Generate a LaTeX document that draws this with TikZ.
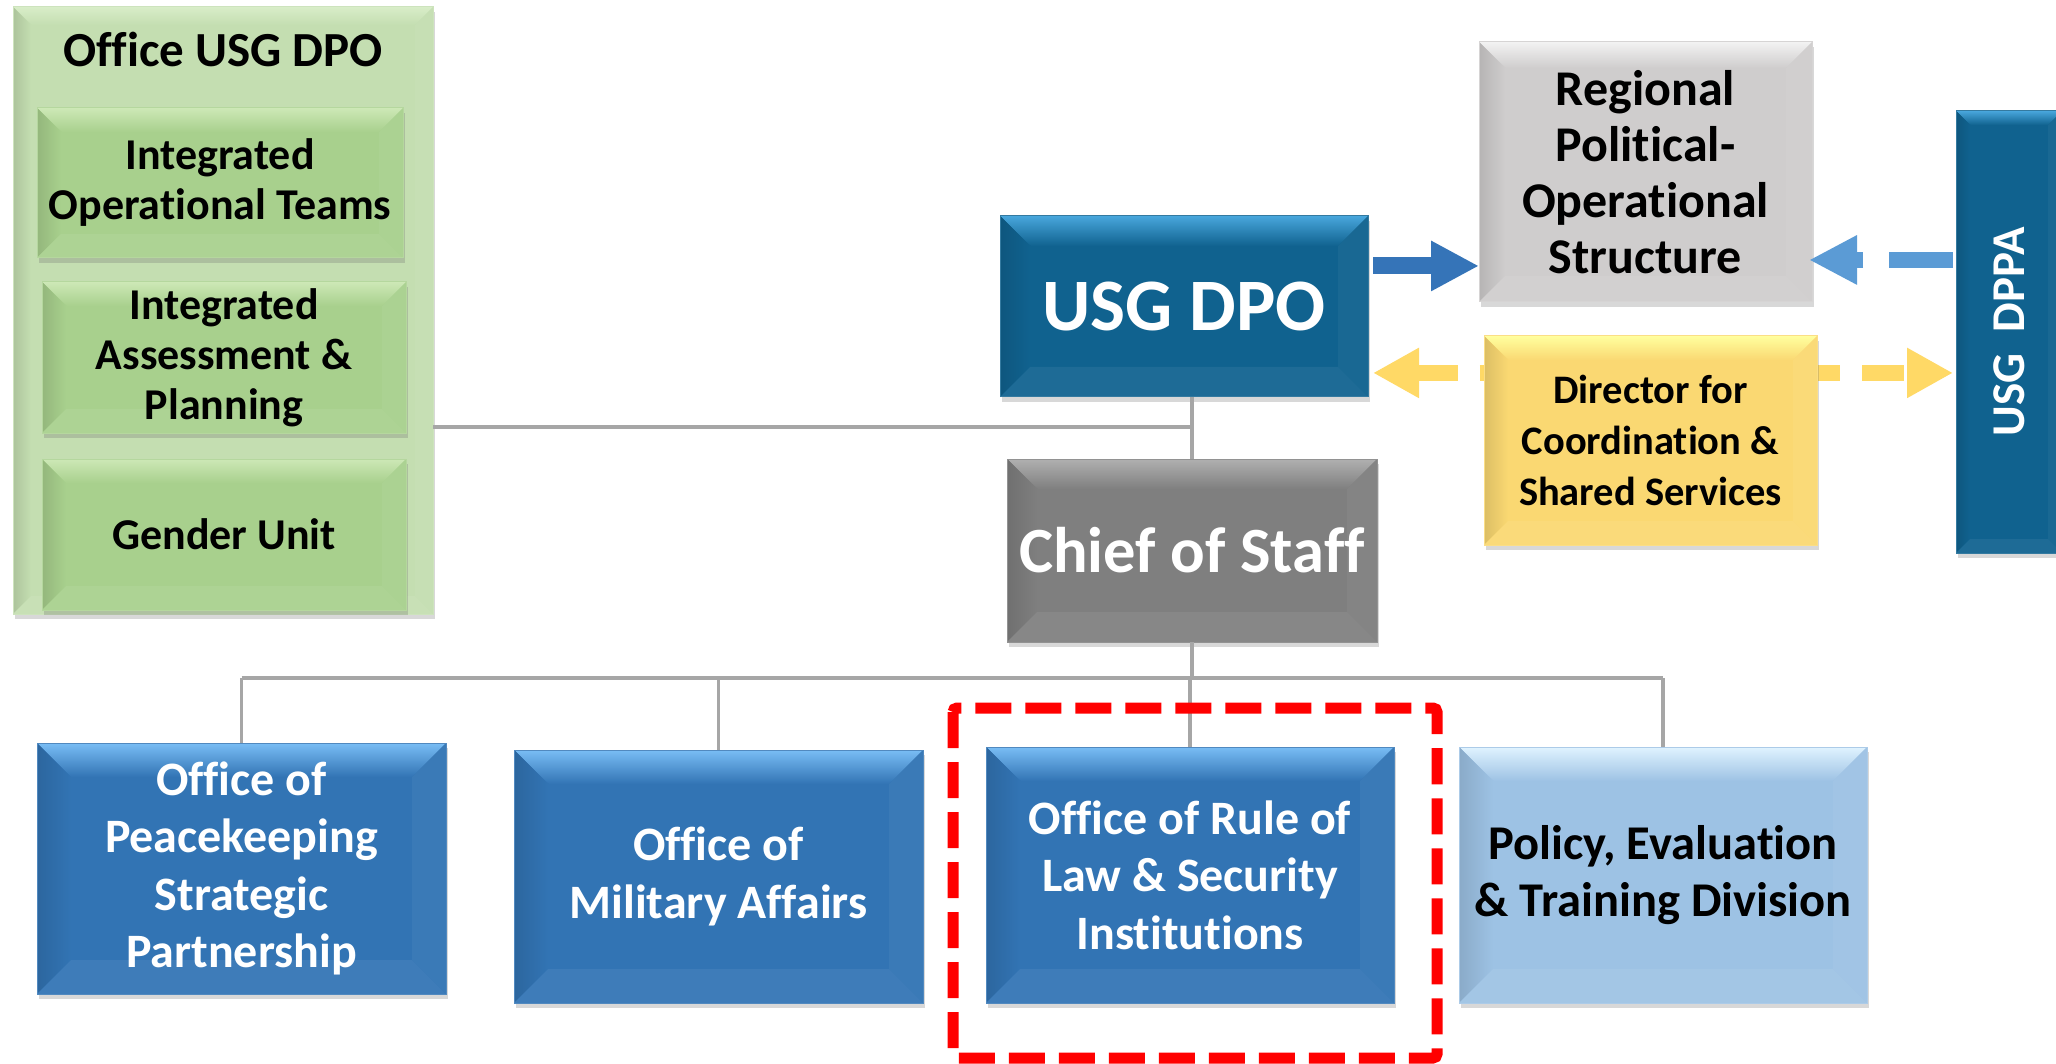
\documentclass[tikz,border=0pt]{standalone}
\usepackage{fontspec}
\setmainfont{Carlito}[Ligatures=NoCommon]
\usetikzlibrary{calc,arrows.meta,shadows}

\definecolor{dpoblue}{HTML}{10628F}
\definecolor{dpotop}{HTML}{48A6DC}
\definecolor{grayA}{HTML}{CFCDCD}
\definecolor{grayAtop}{HTML}{F2F2F2}
\definecolor{yel}{HTML}{FAD872}
\definecolor{yeltop}{HTML}{FFFF9E}
\definecolor{chiefg}{HTML}{7F7F7F}
\definecolor{chieftop}{HTML}{B0B0B0}
\definecolor{midblue}{HTML}{3274B4}
\definecolor{midtop}{HTML}{79BDF5}
\definecolor{pale}{HTML}{9DC2E4}
\definecolor{paletop}{HTML}{E0F3FF}
\definecolor{gout}{HTML}{C4DEB1}
\definecolor{gouttop}{HTML}{D8EDC8}
\definecolor{gin}{HTML}{A8D08D}
\definecolor{gintop}{HTML}{CDE8B6}
\definecolor{connc}{HTML}{A6A6A6}
\definecolor{arrblue}{HTML}{3574B8}
\definecolor{arrlight}{HTML}{5B9BD5}
\definecolor{arryel}{HTML}{FFD966}

\tikzset{
  bev/.style n args={3}{fill=#1, draw=#1!85!white, line width=1pt,
    path picture={
      \coordinate (bvA) at (path picture bounding box.north west);
      \coordinate (bvB) at (path picture bounding box.north east);
      \coordinate (bvC) at (path picture bounding box.south east);
      \coordinate (bvD) at (path picture bounding box.south west);
      \fill[top color=#2, bottom color=#1] (bvA) -- (bvB) -- ($(bvB)+(-#3,-#3)$) -- ($(bvA)+(#3,-#3)$) -- cycle;
      \fill[left color=#1!88!black, right color=#1] (bvA) -- ($(bvA)+(#3,-#3)$) -- ($(bvD)+(#3,#3)$) -- (bvD) -- cycle;
      \fill[#1!96!white] (bvB) -- ($(bvB)+(-#3,-#3)$) -- ($(bvC)+(-#3,#3)$) -- (bvC) -- cycle;
      \fill[#1!94!white] (bvD) -- ($(bvD)+(#3,#3)$) -- ($(bvC)+(-#3,#3)$) -- (bvC) -- cycle;
    }},
  boxbase/.style={inner sep=0pt, outer sep=0pt, align=center, font=\bfseries,
    drop shadow={shadow xshift=2pt, shadow yshift=-5pt, opacity=0.25, fill=black!60}},
  conn/.style={draw=connc, line width=3.5pt},
}

\begin{document}
\begin{tikzpicture}[x=1pt,y=-1pt]
\useasboundingbox (0,0) rectangle (2056,1064);
\fill[white] (0,0) rectangle (2056,1064);

% Office USG DPO group
\node[boxbase, bev={gout}{gouttop}{18pt}, minimum width=420pt, minimum height=607pt] (og) at (223,310.5) {};
\node[font=\bfseries\fontsize{49}{56}\selectfont] (ogtitle) at (223,49) {Office USG DPO};
\node[boxbase, bev={gin}{gintop}{24pt}, minimum width=366pt, minimum height=150pt, font=\bfseries\fontsize{44}{50}\selectfont] (g1) at (220,183) {Integrated\\Operational Teams};
\node[boxbase, bev={gin}{gintop}{24pt}, minimum width=364pt, minimum height=151pt, font=\bfseries\fontsize{44}{50}\selectfont] (g2) at (224,357.5) {Integrated\\Assessment \&\\Planning};
\node[boxbase, bev={gin}{gintop}{24pt}, minimum width=364pt, minimum height=151pt, font=\bfseries\fontsize{44}{50}\selectfont] (g3) at (224,534.5) {Gender Unit};

% top right
\node[boxbase, bev={dpoblue}{dpotop}{30pt}, minimum width=368pt, minimum height=181pt, text=white, font=\bfseries\fontsize{74}{80}\selectfont] (dpo) at (1184,306.5) {USG DPO};
\node[boxbase, bev={grayA}{grayAtop}{26pt}, minimum width=333pt, minimum height=260pt, font=\bfseries\fontsize{50}{56}\selectfont] (rps) at (1645.5,172) {Regional\\Political-\\Operational\\Structure};
\node[boxbase, bev={dpoblue}{dpotop}{14pt}, minimum width=106pt, minimum height=442pt] (dppa) at (2009,332) {};
\node[text=white, font=\bfseries\fontsize{47}{54}\selectfont, rotate=90] (dppat) at (dppa.center) {USG\ \ DPPA};

% arrows
\coordinate (a1) at ($(dpo.north east)!0.276!(dpo.south east)$);
\draw[draw=arrblue, line width=17pt, -{Triangle[length=48pt,width=47pt]}, shorten <=5pt] (a1) -- (a1 -| rps.west);
\coordinate (a2) at ($(dppa.north west)!0.337!(dppa.south west)$);
\draw[draw=arrlight, line width=16pt, dash pattern=on 64pt off 26pt, -{Triangle[length=48pt,width=46pt]}, shorten <=3pt, shorten >=-3pt] (a2) -- (a2 -| rps.east);
\coordinate (a3) at ($(dpo.north east)!0.867!(dpo.south east)$);
\draw[draw=arryel, line width=16pt, dash pattern=on 42pt off 21.7pt, {Triangle[length=46pt,width=47pt]}-{Triangle[length=46pt,width=47pt]}, shorten <=5pt, shorten >=3pt] (a3) -- (a3 -| dppa.west);

\node[boxbase, bev={yel}{yeltop}{24pt}, minimum width=333pt, minimum height=209pt, font=\bfseries\fontsize{40.5}{51}\selectfont] (dir) at (1650.5,440.5) {Director for\\Coordination \&\\Shared Services};

\node[boxbase, bev={chiefg}{chieftop}{30pt}, minimum width=370pt, minimum height=183pt, text=white, font=\bfseries\fontsize{64.5}{70}\selectfont] (chief) at (1192,550.5) {Chief of Staff};

% bottom row
\node[boxbase, bev={midblue}{midtop}{34pt}, minimum width=409pt, minimum height=251pt, text=white, font=\bfseries\fontsize{48}{57.5}\selectfont] (b1) at (241.5,868.5) {Office of\\Peacekeeping\\Strategic\\Partnership};
\node[boxbase, bev={midblue}{midtop}{34pt}, minimum width=409pt, minimum height=253pt, text=white, font=\bfseries\fontsize{48}{57.5}\selectfont] (b2) at (718.5,876.5) {Office of\\Military Affairs};
\node[boxbase, bev={midblue}{midtop}{34pt}, minimum width=408pt, minimum height=256pt, text=white, font=\bfseries\fontsize{48}{57.5}\selectfont] (b3) at (1190,875) {Office of Rule of\\Law \& Security\\Institutions};
\node[boxbase, bev={pale}{paletop}{34pt}, minimum width=408pt, minimum height=256pt, font=\bfseries\fontsize{48.5}{57.5}\selectfont] (b4) at (1663,875) {Policy, Evaluation\\\& Training Division};

% connectors
\coordinate (j1) at (1192,427);
\coordinate (bus) at (1192,678);
\draw[conn] (chief.north) -- (chief.north |- dpo.south);
\draw[conn] (og.east |- j1) -- (j1);
\draw[conn] (chief.south) -- (bus);
\draw[conn] (b1.north |- bus) -- (b4.north |- bus);
\foreach \b in {b1,b2,b3,b4} { \draw[conn] (\b.north |- bus) -- (\b.north); }

% highlight
\draw[red, line width=11pt, dash pattern=on 36pt off 14pt, rounded corners=4pt] (953,708) rectangle (1437,1058);
\end{tikzpicture}
\end{document}
